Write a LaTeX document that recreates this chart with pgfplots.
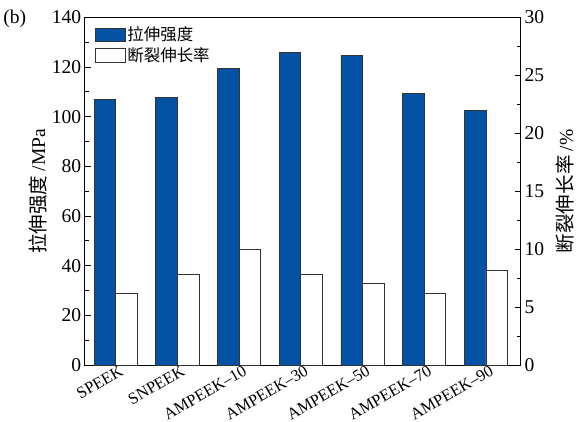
\documentclass[border=0pt]{standalone}
\usepackage{pgfplots}
\pgfplotsset{compat=1.18}
\usepackage{fontspec}
\setmainfont{Liberation Serif}
\newfontfamily\cjk{Noto Sans CJK SC}
\definecolor{barblue}{RGB}{4,82,164}
\pgfplotstableread{
x s e
0 107.1 6.2
1 107.9 7.8
2 119.4 10.0
3 126.0 7.8
4 124.8 7.05
5 109.3 6.15
6 102.7 8.15
}\datatab
\begin{document}
\begin{tikzpicture}
\begin{axis}[
  scale only axis, width=424pt, height=338pt,
  xmin=-0.5, xmax=6.57, ymin=0, ymax=140,
  ytick={0,20,...,140}, minor y tick num=1,
  ytick pos=left, tick align=inside,
  xtick={0,...,6},
  xticklabels={SPEEK,SNPEEK,AMPEEK--10,AMPEEK--30,AMPEEK--50,AMPEEK--70,AMPEEK--90},
  x tick label style={rotate=30, anchor=north east, font=\fontsize{16}{18}\selectfont, inner sep=1pt, xshift=4pt},
  major x tick style={draw=none},
  y tick label style={font=\fontsize{19}{22}\selectfont},
  /pgf/number format/assume math mode=true,
  major tick length=6pt, minor tick length=4pt,
  axis line style={line width=1pt},
  every tick/.style={line width=0.8pt, black},
  ylabel={\cjk 拉伸强度 \rmfamily /MPa},
  ylabel style={font=\fontsize{19}{22}\selectfont, yshift=-2pt},
  legend style={at={(0.015,0.985)}, anchor=north west, draw=none, fill=none,
    font=\cjk\fontsize{16}{22}\selectfont, row sep=1pt},
  legend cell align=left,
  legend image code/.code={\draw[#1, line width=0.8pt] (0pt,-6.5pt) rectangle (29pt,6.5pt);},
  clip=false,
]
\addplot[ybar, bar width=0.35, bar shift=-0.175, fill=barblue, draw=black!80, line width=0.6pt] table[x=x, y=s] {\datatab};
\addlegendentry{拉伸强度}
\addlegendimage{fill=white, draw=black!80}
\addlegendentry{断裂伸长率}
\node[anchor=west, font=\fontsize{19}{22}\selectfont] at (rel axis cs:-0.195,0.995) {(b)};
\path (rel axis cs:0,1.05);
\end{axis}
\begin{axis}[
  scale only axis, width=424pt, height=338pt,
  xmin=-0.5, xmax=6.57, ymin=0, ymax=30,
  axis y line*=right, axis x line=none,
  ytick={0,5,...,30}, minor y tick num=1, tick align=inside,
  y tick label style={font=\fontsize{19}{22}\selectfont},
  /pgf/number format/assume math mode=true,
  major tick length=6pt, minor tick length=4pt,
  axis line style={line width=1pt},
  every tick/.style={line width=0.8pt, black},
  ylabel={\cjk 断裂伸长率 \rmfamily /\%},
  ylabel style={font=\fontsize{19}{22}\selectfont, yshift=-5pt},
]
\addplot[ybar, bar width=0.35, bar shift=0.175, fill=white, draw=black!80, line width=0.6pt] table[x=x, y=e] {\datatab};
\end{axis}
\end{tikzpicture}
\end{document}
